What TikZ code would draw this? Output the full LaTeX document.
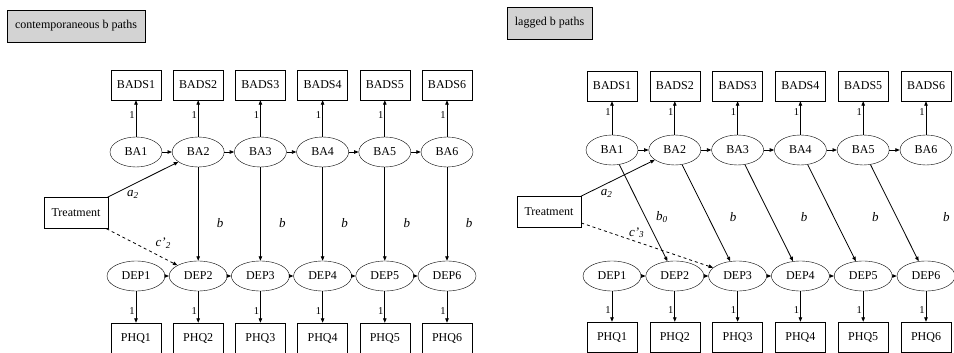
\documentclass[tikz,border=0pt]{standalone}
\usepackage{fontspec}
\setmainfont{Liberation Serif}
\usetikzlibrary{arrows.meta,shapes.geometric}
\definecolor{boxgray}{RGB}{211,211,211}

\begin{document}
\begin{tikzpicture}[x=1pt,y=-1pt,
  font=\fontsize{12}{14}\selectfont,
  obs/.style={draw,rectangle,minimum width=50pt,minimum height=30pt,inner sep=0pt},
  lat/.style={draw,ellipse,minimum width=52pt,minimum height=30pt,inner sep=0pt},
  dep/.style={lat,minimum width=58pt},
  ttl/.style={draw,fill=boxgray,minimum height=32pt,inner xsep=8pt},
  pth/.style={-{Triangle[length=4.5pt,width=3.5pt]},line width=0.8pt},
  lab/.style={font=\fontsize{13}{15}\selectfont,inner sep=0pt},
  one/.style={font=\fontsize{10.5}{12}\selectfont,inner sep=1pt}]
  \useasboundingbox (0,0) rectangle (954,353);

  %contemporaneous panel
  \node[ttl] (Ltitle) at (76,26) {contemporaneous b paths};
  \foreach \i in {1,...,6} {
    \pgfmathsetmacro\xx{136+62.2*(\i-1)}
    \node[obs] (Lbads\i) at (\xx,85) {BADS\i};
    \node[lat] (Lba\i) at (\xx,152) {BA\i};
    \node[dep] (Ldep\i) at (\xx,276) {DEP\i};
    \node[obs] (Lphq\i) at (\xx,338) {PHQ\i};
    \draw[pth] (Lba\i) -- node[one,pos=0.6,left] {1} (Lbads\i);
    \draw[pth] (Ldep\i) -- node[one,pos=0.63,left] {1} (Lphq\i);
  }
  \foreach \i [count=\j from 2] in {1,...,5} {
    \draw[pth] (Lba\i) -- (Lba\j);
    \draw[pth] (Ldep\i) -- (Ldep\j);
  }
  \foreach \i in {2,...,6}
    \draw[pth] (Lba\i) -- node[lab,xshift=22pt,yshift=-9pt] {\textit{b}} (Ldep\i);
  \node[obs,minimum width=64pt,minimum height=31pt] (Ltrt) at (76,213) {Treatment};
  \draw[pth] (Ltrt) -- node[lab,pos=0.36,yshift=-10pt] {\textit{a\textsubscript{2}}} (Lba2);
  \draw[pth,dashed] (Ltrt) -- node[lab,pos=0.8,yshift=15pt] {\textit{c'\textsubscript{2}}} (Ldep2);

  %lagged panel
  \node[ttl] (Rtitle) at (549.5,23) {lagged b paths};
  \foreach \i in {1,...,6} {
    \pgfmathsetmacro\xx{612+62.8*(\i-1)}
    \node[obs] (Rbads\i) at (\xx,86) {BADS\i};
    \node[lat] (Rba\i) at (\xx,150) {BA\i};
    \node[dep] (Rdep\i) at (\xx,276) {DEP\i};
    \node[obs] (Rphq\i) at (\xx,337) {PHQ\i};
    \draw[pth] (Rba\i) -- node[one,pos=0.68,left] {1} (Rbads\i);
    \draw[pth] (Rdep\i) -- node[one,pos=0.63,left] {1} (Rphq\i);
  }
  \foreach \i [count=\j from 2] in {1,...,5} {
    \draw[pth] (Rba\i) -- (Rba\j);
    \draw[pth] (Rdep\i) -- (Rdep\j);
  }
  \draw[pth] (Rba1) -- node[lab,xshift=18.6pt,yshift=-4pt] {\textit{b\textsubscript{0}}} (Rdep2);
  \foreach \i [count=\j from 3] in {2,...,5} {
    \pgfmathsetmacro\sh{10.3+8.3*\i}
    \draw[pth] (Rba\i) -- node[lab,xshift=\sh pt,yshift=-4pt] {\textit{b}} (Rdep\j);
  }
  \node[obs,minimum width=64pt,minimum height=31pt] (Rtrt) at (549,212) {Treatment};
  \draw[pth] (Rtrt) -- node[lab,pos=0.35,yshift=-10pt] {\textit{a\textsubscript{2}}} (Rba2);
  \draw[pth,dashed] (Rtrt) -- node[lab,pos=0.42,yshift=9pt] {\textit{c'\textsubscript{3}}} (Rdep3);
\end{tikzpicture}
\end{document}
